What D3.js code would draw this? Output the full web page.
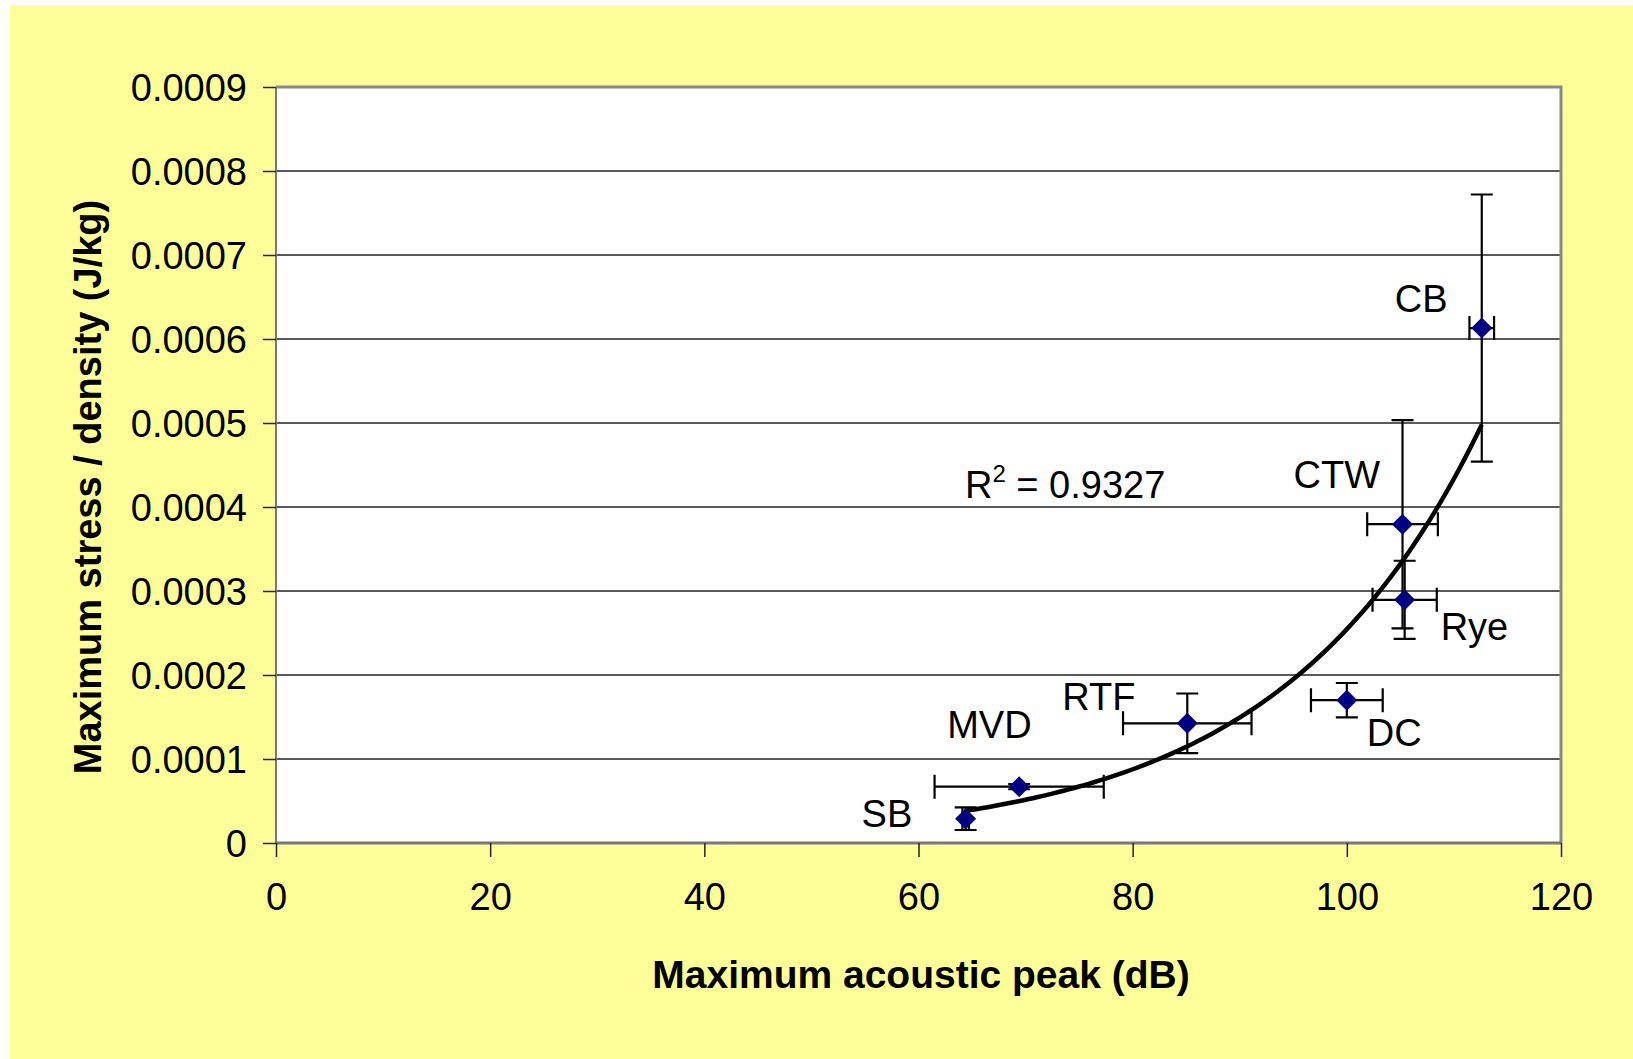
<!DOCTYPE html>
<html>
<head>
<meta charset="utf-8">
<script src="https://cdn.jsdelivr.net/npm/d3@7"></script>
<style>
body { margin: 0; background: #fff; }
text { font-family: Arial, "Liberation Sans", sans-serif; fill: #000; }
</style>
</head>
<body>
<svg id="chart" width="1633" height="1059"></svg>
<script>
// data
const names = ["SB", "MVD", "RTF", "DC", "Rye", "CTW", "CB"];
const peakDb = [64.4, 69.4, 85.1, 100.0, 105.4, 105.2, 112.6];
const peakErr = [0.3, 7.9, 6.0, 3.35, 3.0, 3.3, 1.15];
const stress = [0.000029, 0.000067, 0.0001425, 0.00017, 0.0002895, 0.0003795, 0.000613];
const stressErr = [0.0000135, 0.000003, 0.0000355, 0.0000205, 0.0000465, 0.000124, 0.000159];
const xTicks = [0, 20, 40, 60, 80, 100, 120];
const yTicks = [0, 0.0001, 0.0002, 0.0003, 0.0004, 0.0005, 0.0006, 0.0007, 0.0008, 0.0009];
const r2Text = "0.9327";

// label offsets from each point, px
const labelOffset = [[-104, 8], [-72, -49], [-125, -13], [20, 46], [36, 40], [-109, -36], [-87, -16]];

var margin = { top: 87, right: 72, bottom: 216, left: 276 },
	width = 1633 - margin.left - margin.right,
	height = 1059 - margin.top - margin.bottom;

var svg = d3.select("#chart");

// yellow background
svg.append("rect").attr("x", 10).attr("y", 5).attr("width", 1623).attr("height", 1054).attr("fill", "#FFFF99");

var g = svg.append("g").attr("transform", "translate(" + margin.left + "," + margin.top + ")");

var x = d3.scaleLinear().domain([0, 120]).range([0, width]);
var y = d3.scaleLinear().domain([0, 0.0009]).range([height, 0]);

g.append("rect").attr("width", width).attr("height", height).attr("fill", "#fff");

// gridlines
g.append("g")
	.selectAll("line")
	.data(yTicks.slice(1))
	.enter()
	.append("line")
	.attr("x1", 0)
	.attr("x2", width)
	.attr("y1", (d) => y(d))
	.attr("y2", (d) => y(d))
	.attr("stroke", "#222")
	.attr("stroke-width", 1.3);

// plot border top / right
g.append("path")
	.attr("d", "M0," + y(0.0009) + "H" + width + "V" + height)
	.attr("fill", "none")
	.attr("stroke", "#888")
	.attr("stroke-width", 3);

// axes
var xAxis = g.append("g")
	.attr("transform", "translate(0," + height + ")")
	.call(d3.axisBottom(x).tickValues(xTicks).tickSize(14).tickPadding(26).tickFormat(d3.format("d")));
xAxis.select(".domain").attr("stroke", "#777").attr("stroke-width", 3).attr("d", "M0,0H" + width);
xAxis.selectAll(".tick line").attr("stroke", "#222").attr("stroke-width", 1.5);
xAxis.selectAll("text").attr("font-size", 38).attr("fill", "#000");

var yAxis = g.append("g")
	.call(d3.axisLeft(y).tickValues(yTicks).tickSize(13).tickPadding(16)
		.tickFormat((d) => (d === 0 ? "0" : d.toFixed(4))));
yAxis.select(".domain").attr("stroke", "#777").attr("stroke-width", 2).attr("d", "M0," + height + "V0");
yAxis.selectAll(".tick line").attr("stroke", "#222").attr("stroke-width", 1.5);
yAxis.selectAll("text").attr("font-size", 38).attr("fill", "#000").attr("dy", "0.36em");

// axis titles
svg.append("text")
	.attr("x", 921)
	.attr("y", 988)
	.attr("text-anchor", "middle")
	.attr("font-size", 39)
	.attr("font-weight", "bold")
	.text("Maximum acoustic peak (dB)");

svg.append("text")
	.attr("transform", "translate(101,487) rotate(-90)")
	.attr("text-anchor", "middle")
	.attr("font-size", 38)
	.attr("font-weight", "bold")
	.text("Maximum stress / density (J/kg)");

var data = names.map((n, i) => ({
	name: n,
	x: peakDb[i],
	y: stress[i],
	ex: peakErr[i],
	ey: stressErr[i],
	off: labelOffset[i],
}));

// exponential trendline, fitted on ln(y)
var mx = d3.mean(data, (d) => d.x),
	my = d3.mean(data, (d) => Math.log(d.y));
var sxy = d3.sum(data, (d) => (d.x - mx) * (Math.log(d.y) - my)),
	sxx = d3.sum(data, (d) => (d.x - mx) * (d.x - mx));
var b = sxy / sxx,
	a = Math.exp(my - b * mx);
var x0 = d3.min(peakDb),
	x1 = d3.max(peakDb);
var fit = d3.range(0, 101).map((i) => {
	var xv = x0 + ((x1 - x0) * i) / 100;
	return [xv, a * Math.exp(b * xv)];
});
g.append("path")
	.datum(fit)
	.attr("fill", "none")
	.attr("stroke", "#000")
	.attr("stroke-width", 4.5)
	.attr("d", d3.line().x((d) => x(d[0])).y((d) => y(d[1])));

// error bars
var eb = g.append("g").attr("stroke", "#000").attr("stroke-width", 2.2).attr("fill", "none");
eb.selectAll("path.v")
	.data(data)
	.enter()
	.append("path")
	.attr("d", (d) => {
		var cx = x(d.x), t = y(d.y + d.ey), bt = y(d.y - d.ey);
		return "M" + (cx - 11) + "," + t + "H" + (cx + 11) + "M" + cx + "," + t + "V" + bt + "M" + (cx - 11) + "," + bt + "H" + (cx + 11);
	});
eb.selectAll("path.h")
	.data(data)
	.enter()
	.append("path")
	.attr("d", (d) => {
		var cy = y(d.y), l = x(d.x - d.ex), r = x(d.x + d.ex);
		return "M" + l + "," + (cy - 12) + "V" + (cy + 12) + "M" + l + "," + cy + "H" + r + "M" + r + "," + (cy - 12) + "V" + (cy + 12);
	});

// diamonds
g.append("g")
	.selectAll("path")
	.data(data)
	.enter()
	.append("path")
	.attr("transform", (d) => "translate(" + x(d.x) + "," + y(d.y) + ")")
	.attr("d", "M0,-10.5L10.5,0L0,10.5L-10.5,0Z")
	.attr("fill", "#000080");

// point labels
g.append("g")
	.selectAll("text")
	.data(data)
	.enter()
	.append("text")
	.attr("x", (d) => x(d.x) + d.off[0])
	.attr("y", (d) => y(d.y) + d.off[1])
	.attr("font-size", 38)
	.text((d) => d.name);

// R squared
var r2 = svg.append("text").attr("x", 965).attr("y", 498).attr("font-size", 38);
r2.append("tspan").text("R");
r2.append("tspan").attr("font-size", 24).attr("dy", -16).text("2");
r2.append("tspan").attr("dy", 16).text(" = " + r2Text);
</script>
</body>
</html>
